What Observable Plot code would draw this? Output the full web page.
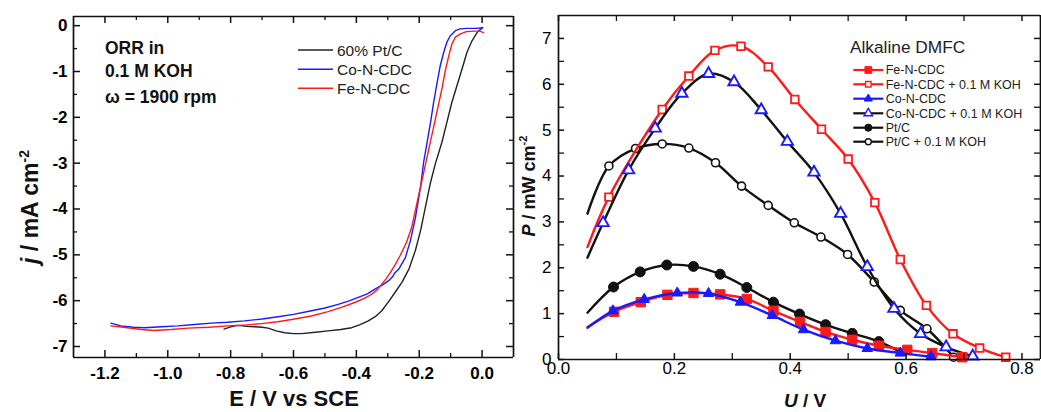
<!DOCTYPE html>
<html><head><meta charset="utf-8">
<script src="https://cdn.jsdelivr.net/npm/d3@7"></script>
<script src="https://cdn.jsdelivr.net/npm/@observablehq/plot@0.6"></script>
<style>
html,body{margin:0;padding:0;background:#fff;}
#wrap{position:relative;display:flex;width:1041px;height:412px;overflow:hidden;}
#overlay{position:absolute;left:0;top:0;pointer-events:none;}
</style></head><body><div id="wrap"></div>
<script>
// ================= LEFT PANEL: ORR polarisation curves =================
const lsvNames = ["60% Pt/C", "Co-N-CDC", "Fe-N-CDC"];
const ptcE = [-0.821,-0.800,-0.777,-0.750,-0.723,-0.700,-0.681,-0.655,-0.628,-0.600,-0.575,-0.530,-0.490,-0.450,-0.415,-0.390,-0.362,-0.340,-0.319,-0.295,-0.275,-0.255,-0.232,-0.212,-0.195,-0.180,-0.165,-0.149,-0.128,-0.112,-0.096,-0.080,-0.064,-0.048,-0.032,-0.016,0.002];
const ptcJ = [-6.62,-6.57,-6.54,-6.56,-6.57,-6.58,-6.60,-6.66,-6.70,-6.72,-6.72,-6.69,-6.66,-6.63,-6.59,-6.53,-6.44,-6.35,-6.22,-6.00,-5.80,-5.60,-5.30,-4.90,-4.45,-3.95,-3.45,-3.02,-2.55,-2.11,-1.67,-1.31,-0.95,-0.58,-0.33,-0.15,-0.04];
const coE = [-1.181,-1.149,-1.110,-1.075,-1.020,-0.968,-0.915,-0.862,-0.810,-0.756,-0.700,-0.649,-0.600,-0.543,-0.500,-0.458,-0.425,-0.394,-0.365,-0.341,-0.318,-0.298,-0.285,-0.277,-0.265,-0.244,-0.228,-0.212,-0.196,-0.186,-0.175,-0.164,-0.154,-0.143,-0.133,-0.122,-0.112,-0.101,-0.085,-0.070,-0.050,-0.025,0.000];
const coJ = [-6.49,-6.55,-6.58,-6.59,-6.57,-6.55,-6.52,-6.49,-6.47,-6.44,-6.40,-6.35,-6.30,-6.22,-6.16,-6.08,-6.01,-5.93,-5.85,-5.75,-5.66,-5.57,-5.48,-5.39,-5.31,-5.06,-4.69,-4.19,-3.53,-2.98,-2.55,-2.11,-1.67,-1.24,-0.87,-0.58,-0.36,-0.22,-0.11,-0.07,-0.06,-0.06,-0.05];
const feE = [-1.181,-1.128,-1.085,-1.043,-0.990,-0.936,-0.870,-0.809,-0.750,-0.702,-0.650,-0.596,-0.540,-0.490,-0.450,-0.405,-0.375,-0.351,-0.333,-0.319,-0.305,-0.292,-0.277,-0.261,-0.240,-0.224,-0.208,-0.192,-0.180,-0.164,-0.149,-0.138,-0.127,-0.117,-0.106,-0.096,-0.085,-0.069,-0.050,-0.025,-0.008,0.005];
const feJ = [-6.55,-6.59,-6.63,-6.65,-6.63,-6.60,-6.58,-6.55,-6.53,-6.50,-6.46,-6.40,-6.33,-6.24,-6.15,-6.04,-5.95,-5.86,-5.76,-5.64,-5.52,-5.39,-5.22,-5.02,-4.72,-4.40,-3.90,-3.40,-3.02,-2.52,-2.05,-1.70,-1.35,-0.98,-0.66,-0.40,-0.25,-0.18,-0.13,-0.12,-0.12,-0.15];
const leftXDomain = [-1.3, 0.1], leftYDomain = [-7.24, 0.2];
const leftXMajor = [-1.2,-1.0,-0.8,-0.6,-0.4,-0.2,0.0];
const leftXMinor = [-1.1,-0.9,-0.7,-0.5,-0.3,-0.1];
const leftYMajor = [0,-1,-2,-3,-4,-5,-6,-7];
const leftYMinor = [-0.5,-1.5,-2.5,-3.5,-4.5,-5.5,-6.5];
const leftNotes = ["ORR in", "0.1 M KOH", "\u03C9 = 1900 rpm"];

// ================= RIGHT PANEL: alkaline DMFC power curves =================
const fcNames = ["Fe-N-CDC","Fe-N-CDC + 0.1 M KOH","Co-N-CDC","Co-N-CDC + 0.1 M KOH","Pt/C","Pt/C + 0.1 M KOH"];
const feU  = [0.096,0.142,0.188,0.233,0.279,0.325,0.371,0.417,0.461,0.507,0.553,0.602,0.645,0.697];
const feP  = [1.04,1.25,1.41,1.45,1.42,1.32,1.06,0.82,0.60,0.43,0.30,0.21,0.14,0.05];
const feKU = [0.087,0.179,0.225,0.270,0.315,0.362,0.408,0.454,0.500,0.546,0.590,0.635,0.681,0.727,0.772];
const feKP = [3.54,5.45,6.18,6.74,6.83,6.38,5.67,5.02,4.37,3.42,2.18,1.18,0.56,0.25,0.05];
const coU  = [0.094,0.148,0.205,0.259,0.314,0.369,0.423,0.478,0.533,0.590,0.643];
const coP  = [1.06,1.31,1.45,1.44,1.25,0.96,0.65,0.41,0.24,0.14,0.06];
const coKU = [0.077,0.121,0.167,0.213,0.259,0.303,0.350,0.395,0.441,0.487,0.533,0.579,0.625,0.669,0.715];
const coKP = [2.98,4.13,5.04,5.80,6.23,6.05,5.44,4.75,4.08,3.18,2.02,1.11,0.56,0.27,0.07];
const ptU  = [0.095,0.141,0.187,0.233,0.279,0.325,0.371,0.416,0.461,0.507,0.553];
const ptP  = [1.58,1.91,2.06,2.03,1.86,1.57,1.25,0.99,0.76,0.57,0.39];
const ptKU = [0.087,0.133,0.179,0.225,0.271,0.316,0.362,0.407,0.453,0.499,0.545,0.590,0.636,0.682];
const ptKP = [4.22,4.60,4.70,4.61,4.29,3.78,3.36,2.98,2.67,2.29,1.69,1.07,0.67,0.05];
// fitted-curve start points (at U = 0.05) and the Pt/C curve end point
const fitStartU = [0.05,0.05,0.05,0.05,0.05,0.05];
const fitStartP = [0.71,2.45,0.69,2.22,1.02,3.18];
const ptEndU = [0.600], ptEndP = [0.10];
const rightXDomain = [0, 0.832], rightYDomain = [0, 7.5];
const rightXMajor = [0.0,0.2,0.4,0.6,0.8];
const rightXMinor = [0.1,0.3,0.5,0.7];
const rightYMajor = [0,1,2,3,4,5,6,7];
const rightYMinor = [0.5,1.5,2.5,3.5,4.5,5.5,6.5];
const legendTitle = "Alkaline DMFC";

// ---------- helpers ----------
const rows = (xs, ys) => xs.map((x, i) => ({x, y: ys[i]}));
const FONT = "'Liberation Sans', Arial, Helvetica, sans-serif";

// frame as rules on the domain edges, inward ticks as short rules (length converted from pixels to data units)
function frameMarks(xDom, yDom, plotW, plotH, opt) {
  const kx = (xDom[1] - xDom[0]) / plotW, ky = (yDom[1] - yDom[0]) / plotH;
  const C = "#111111";
  const marks = [
    Plot.ruleY(yDom, {stroke: C, strokeWidth: 1.7}),
    Plot.ruleX(opt.right ? xDom : [xDom[0], xDom[1]], {stroke: C, strokeWidth: 1.7})
  ];
  const vt = (ticks, len, w) => [
    Plot.ruleX(ticks, {x: d => d, y1: () => yDom[0], y2: () => yDom[0] + len * ky, stroke: C, strokeWidth: w}),
    Plot.ruleX(ticks, {x: d => d, y1: () => yDom[1], y2: () => yDom[1] - len * ky, stroke: C, strokeWidth: w})
  ];
  const ht = (ticks, len, w) => {
    const m = [Plot.ruleY(ticks, {y: d => d, x1: () => xDom[0], x2: () => xDom[0] + len * kx, stroke: C, strokeWidth: w})];
    if (opt.right) m.push(Plot.ruleY(ticks, {y: d => d, x1: () => xDom[1], x2: () => xDom[1] - len * kx, stroke: C, strokeWidth: w}));
    return m;
  };
  return [...marks, ...vt(opt.xMaj, opt.maj, 1.5), ...vt(opt.xMin, opt.min, 1.3), ...ht(opt.yMaj, opt.maj, 1.5), ...ht(opt.yMin, opt.min, 1.3)];
}

// ---------- left plot ----------
const lsvColors = ["#222222", "#1a1aff", "#ff1a1a"];
const lsvData = [rows(ptcE, ptcJ), rows(coE, coJ), rows(feE, feJ)];
const left = Plot.plot({
  width: 520, height: 412,
  marginLeft: 73, marginRight: 7, marginTop: 16, marginBottom: 55,
  x: {domain: leftXDomain, axis: null},
  y: {domain: leftYDomain, axis: null},
  style: {fontFamily: FONT},
  marks: [
    ...lsvData.map((d, i) => Plot.line(d, {x: "x", y: "y", stroke: lsvColors[i], strokeWidth: 1.4})),
    ...frameMarks(leftXDomain, leftYDomain, 440, 341, {xMaj: leftXMajor, xMin: leftXMinor, yMaj: leftYMajor, yMin: leftYMinor, maj: 7, min: 4, right: true}),
    Plot.axisX(leftXMajor, {anchor: "bottom", tickSize: 0, tickPadding: 9, tickFormat: d => d.toFixed(1), fontSize: 17, fontWeight: "bold", label: null}),
    Plot.axisY(leftYMajor, {anchor: "left", tickSize: 0, tickPadding: 6, tickFormat: d => String(d), fontSize: 17, fontWeight: "bold", label: null})
  ]
});

// ---------- right plot ----------
const fcStyles = [
  {line: "#ff1a1a", symbol: "square",   fill: "#ff1a1a", stroke: "#ff1a1a", r: 5.3, sw: 1},
  {line: "#ff1a1a", symbol: "square",   fill: "white",   stroke: "#ff1a1a", r: 4.3, sw: 1.8},
  {line: "#1a1aff", symbol: "triangle", fill: "#1a1aff", stroke: "#1a1aff", r: 3.9, sw: 1},
  {line: "#111111", symbol: "triangle", fill: "white",   stroke: "#1a1aff", r: 4.2, sw: 1.9},
  {line: "#111111", symbol: "circle",   fill: "#111111", stroke: "#111111", r: 5.0, sw: 1},
  {line: "#111111", symbol: "circle",   fill: "white",   stroke: "#111111", r: 4.0, sw: 1.6}
];
const fcMarkers = [rows(feU, feP), rows(feKU, feKP), rows(coU, coP), rows(coKU, coKP), rows(ptU, ptP), rows(ptKU, ptKP)];
const fcLines = fcMarkers.map((m, i) => {
  const pts = [{x: fitStartU[i], y: fitStartP[i]}, ...m];
  if (i === 4) pts.push(...rows(ptEndU, ptEndP));
  return pts;
});
const drawOrder = [5, 4, 1, 3, 0, 2];
const right = Plot.plot({
  width: 521, height: 412,
  marginLeft: 38, marginRight: 1, marginTop: 15, marginBottom: 53,
  x: {domain: rightXDomain, axis: null},
  y: {domain: rightYDomain, axis: null},
  style: {fontFamily: FONT},
  marks: [
    ...drawOrder.flatMap(i => [
      Plot.line(fcLines[i], {x: "x", y: "y", curve: "catmull-rom", stroke: fcStyles[i].line, strokeWidth: 2.4}),
      Plot.dot(fcMarkers[i], {x: "x", y: "y", symbol: fcStyles[i].symbol, r: fcStyles[i].r, fill: fcStyles[i].fill, stroke: fcStyles[i].stroke, strokeWidth: fcStyles[i].sw})
    ]),
    ...frameMarks(rightXDomain, rightYDomain, 482, 344, {xMaj: rightXMajor, xMin: rightXMinor, yMaj: rightYMajor, yMin: rightYMinor, maj: 6, min: 6, right: true}),
    Plot.axisX(rightXMajor, {anchor: "bottom", tickSize: 0, tickPadding: 2, tickFormat: d => d.toFixed(1), fontSize: 17, label: null}),
    Plot.axisY(rightYMajor, {anchor: "left", tickSize: 0, tickPadding: 7, tickFormat: d => String(d), fontSize: 17, label: null})
  ]
});

const wrap = document.getElementById("wrap");
wrap.append(left, right);

// ---------- overlay: annotations, legends, axis titles ----------
const O = d3.select(wrap).append("svg").attr("id", "overlay").attr("width", 1041).attr("height", 412)
  .attr("font-family", FONT).attr("text-anchor", "start");
const RX = 520; // left edge of the right panel
const noteBase = [54, 76.7, 102.7];
leftNotes.forEach((t, i) => O.append("text").attr("x", 105).attr("y", noteBase[i])
  .attr("font-size", 17.5).attr("font-weight", "bold").attr("fill", "#111").text(t));
const legY = [50, 69.3, 88.3];
lsvNames.forEach((n, i) => {
  O.append("line").attr("x1", 298).attr("x2", 333).attr("y1", legY[i]).attr("y2", legY[i])
    .attr("stroke", lsvColors[i]).attr("stroke-width", 1.4);
  O.append("text").attr("x", 337).attr("y", legY[i] + 5.5).attr("font-size", 15.5).attr("fill", "#222").text(n);
});
O.append("text").attr("x", 294).attr("y", 406).attr("text-anchor", "middle")
  .attr("font-size", 22).attr("font-weight", "bold").attr("fill", "#111").text("E / V vs SCE");
const ly = O.append("text").attr("transform", "translate(38,207) rotate(-90)").attr("text-anchor", "middle")
  .attr("font-size", 23).attr("font-weight", "bold").attr("fill", "#111");
ly.append("tspan").attr("font-style", "italic").text("j");
ly.append("tspan").text(" / mA cm");
ly.append("tspan").attr("dy", -9).attr("font-size", 14).text("-2");

O.append("text").attr("x", RX + 330).attr("y", 53.3).attr("font-size", 17.3).attr("fill", "#222").text(legendTitle);
const rLegY = [70, 84.3, 98.7, 113.3, 127.7, 141.7];
const symMap = {square: d3.symbolSquare, triangle: d3.symbolTriangle, circle: d3.symbolCircle};
const legR = [3.8, 3.1, 3.0, 3.2, 3.6, 3.0];
fcNames.forEach((n, i) => {
  const s = fcStyles[i];
  O.append("line").attr("x1", RX + 333.3).attr("x2", RX + 363.3).attr("y1", rLegY[i]).attr("y2", rLegY[i])
    .attr("stroke", s.line).attr("stroke-width", 2.2);
  O.append("path").attr("transform", `translate(${RX + 348.3},${rLegY[i]})`)
    .attr("d", d3.symbol(symMap[s.symbol], Math.PI * legR[i] * legR[i])())
    .attr("fill", s.fill).attr("stroke", s.stroke).attr("stroke-width", s.sw > 1.5 ? 1.4 : 1);
  O.append("text").attr("x", RX + 365.7).attr("y", rLegY[i] + 4.4).attr("font-size", 12.5).attr("fill", "#222").text(n);
});
const rx = O.append("text").attr("x", RX + 285).attr("y", 407).attr("text-anchor", "middle")
  .attr("font-size", 19).attr("font-weight", "bold").attr("fill", "#111");
rx.append("tspan").attr("font-style", "italic").text("U");
rx.append("tspan").text(" / V");
const ry = O.append("text").attr("transform", `translate(${RX + 15},186) rotate(-90)`).attr("text-anchor", "middle")
  .attr("font-size", 18).attr("font-weight", "bold").attr("fill", "#111");
ry.append("tspan").attr("font-style", "italic").text("P");
ry.append("tspan").text(" / mW cm");
ry.append("tspan").attr("dy", -8).attr("font-size", 11).text("-2");
</script></body></html>
